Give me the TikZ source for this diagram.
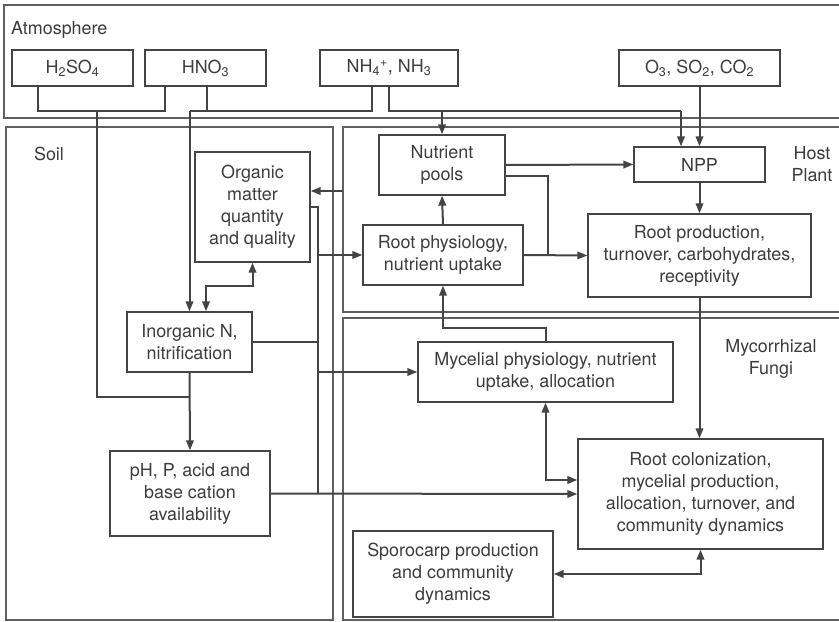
\documentclass[tikz,border=0pt]{standalone}
\usepackage{fontspec}
\setmainfont{TeX Gyre Heros}
\usetikzlibrary{arrows.meta,positioning}
\definecolor{ink}{HTML}{3C3C3C}
\definecolor{wire}{HTML}{444444}

\tikzset{
  box/.style={draw=wire, line width=1.3bp, text=ink, align=center, inner sep=0pt,
    font=\fontsize{18}{22}\selectfont},
  panel/.style={draw=wire!85, line width=1.2bp, inner sep=0pt},
  lbl/.style={text=ink, align=center, inner sep=0pt, font=\fontsize{18}{22}\selectfont},
  wireline/.style={draw=wire, line width=2bp},
  arr/.style={-{Triangle[length=10bp,width=7.5bp]}},
  biarr/.style={{Triangle[length=10bp,width=7.5bp]}-{Triangle[length=10bp,width=7.5bp]}}
}

\begin{document}
\begin{tikzpicture}[x=1bp,y=1bp]
        \clip (0,0) rectangle (839,-622);
        % panels
        \node [panel, minimum width=846bp, minimum height=113bp] (atm) at (427,-61.5) {};
        \node [panel, minimum width=327bp, minimum height=493bp] (soil) at (169.5,-373.5) {};
        \node [panel, minimum width=507bp, minimum height=185bp] (host) at (596.5,-219.5) {};
        \node [panel, minimum width=507bp, minimum height=302bp] (fungi) at (596.5,-469) {};
        \node [lbl, anchor=west] (atmlbl) at (11,-30) {Atmosphere};
        \node [lbl] (soillbl) at (49,-154) {Soil};
        \node [lbl] (hostlbl) at (812,-164) {Host\\Plant};
        \node [lbl] (fungilbl) at (771,-359) {Mycorrhizal\\Fungi};
        % atmosphere
        \node [box, minimum width=121bp, minimum height=36bp] (h2so4) at (72.5,-68) {H\textsubscript{2}SO\textsubscript{4}};
        \node [box, minimum width=121bp, minimum height=36bp] (hno3) at (205.5,-68) {HNO\textsubscript{3}};
        \node [box, minimum width=138bp, minimum height=36bp] (nh) at (389,-68) {NH\textsubscript{4}\textsuperscript{+}, NH\textsubscript{3}};
        \node [box, minimum width=161bp, minimum height=36bp] (o3) at (699.5,-68) {O\textsubscript{3}, SO\textsubscript{2}, CO\textsubscript{2}};
        % soil
        \node [box, minimum width=115bp, minimum height=110bp] (org) at (252.5,-207) {Organic\\matter\\quantity\\and quality};
        \node [box, minimum width=125bp, minimum height=60bp] (inorg) at (189.5,-342) {Inorganic N,\\nitrification};
        \node [box, minimum width=160bp, minimum height=85bp] (ph) at (190,-493.5) {pH, P, acid and\\base cation\\availability};
        % host plant
        \node [box, minimum width=126bp, minimum height=60bp] (nutr) at (442,-165) {Nutrient\\pools};
        \node [box, minimum width=131bp, minimum height=35bp] (npp) at (699.5,-164.5) {NPP};
        \node [box, minimum width=160bp, minimum height=60bp] (rphys) at (443,-255) {Root physiology,\\nutrient uptake};
        \node [box, minimum width=223bp, minimum height=83bp] (rprod) at (699.5,-255.5) {Root production,\\turnover, carbohydrates,\\receptivity};
        % fungi
        \node [box, minimum width=255bp, minimum height=60bp] (myc) at (545.5,-372) {Mycelial physiology, nutrient\\uptake, allocation};
        \node [box, minimum width=245bp, minimum height=110bp] (rcol) at (700.5,-494) {Root colonization,\\mycelial production,\\allocation, turnover, and\\community dynamics};
        \node [box, minimum width=200bp, minimum height=86bp] (spor) at (453,-574) {Sporocarp production\\and community\\dynamics};

        % deposition from the atmosphere
        \coordinate (sL) at (38,-111);
        \coordinate (sR) at (165,-111);
        \coordinate (sd) at (97,-111);
        \coordinate (se) at (97,-397);
        \draw [wireline] (h2so4.south -| sL) -- (sL) -- (sR) -- (hno3.south -| sR);
        \draw [wireline] (sd) -- (se) -- (inorg.south |- se);
        \coordinate (nL) at (372,-111);
        \coordinate (hN) at (207,-111);
        \draw [wireline] (nh.south -| nL) -- (nL) -- (inorg.north |- nL);
        \draw [wireline] (hno3.south -| hN) -- (hN);
        \draw [wireline, arr] (inorg.north |- nL) -- (inorg.north);
        \coordinate (nR) at (681,-111);
        \draw [wireline] (nh.south) -- (nh.south |- nR) -- (nR);
        \draw [wireline, arr] (nR) -- (nR |- npp.north);
        \draw [wireline, arr] (nutr.north |- nR) -- (nutr.north);
        \draw [wireline, arr] (o3.south) -- (npp.north);

        % host plant
        \draw [wireline, arr] (nutr.east) -- (npp.west);
        \coordinate (pj) at (548,-255);
        \draw [wireline] ([yshift=-11bp]nutr.east) -| (pj);
        \draw [wireline, arr] (rphys.east) -- (rprod.west);
        \draw [wireline, arr] (rphys.north) -- (nutr.south);
        \draw [wireline, arr] (npp.south) -- (rprod.north);
        \draw [wireline, arr] (rprod.south) -- (rprod.south |- rcol.north);
        \coordinate (lit) at (343,-191);
        \draw [wireline, arr] (lit) -- (org.east |- lit);

        % fungi
        \coordinate (mj) at (443,-328);
        \draw [wireline, arr] (myc.north) |- (mj) -- (rphys.south);
        \draw [wireline, biarr] (myc.south) |- ([yshift=14bp]rcol.west);
        \draw [wireline, biarr] (rcol.south) |- (spor.east);

        % soil
        \coordinate (oi) at (206,-286);
        \draw [wireline, biarr] (org.south) |- (oi) -- (oi |- inorg.north);
        \draw [wireline, arr] (inorg.south) -- (ph.north);
        \coordinate (bus) at (318,0);
        \draw [wireline] (org.east) -- (bus |- org.east) -- (bus |- ph.east);
        \draw [wireline, arr] (bus |- rphys.west) -- (rphys.west);
        \draw [wireline] (inorg.east) -- (bus |- inorg.east);
        \draw [wireline, arr] (bus |- myc.west) -- (myc.west);
        \draw [wireline, arr] (ph.east) -- (rcol.west);
\end{tikzpicture}
\end{document}
